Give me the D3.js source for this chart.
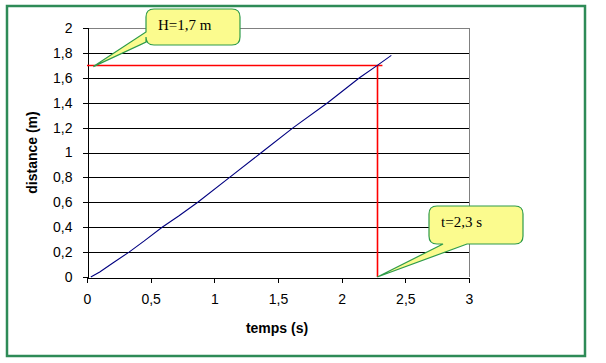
<!DOCTYPE html>
<html><head><meta charset="utf-8">
<script src="https://cdn.jsdelivr.net/npm/d3@7"></script>
<style>body{margin:0;background:#fff}svg{display:block}</style>
</head><body>
<script>
// Data
const timeValues = [0.03, 0.1, 0.2, 0.33, 0.45, 0.59, 0.72, 0.87, 1.12, 1.37, 1.62, 1.89, 2.14, 2.28, 2.39];
const distValues = [0, 0.04, 0.11, 0.2, 0.29, 0.4, 0.49, 0.6, 0.8, 1.0, 1.2, 1.4, 1.6, 1.7, 1.78];
const xTicks = [0, 0.5, 1, 1.5, 2, 2.5, 3];
const yTicks = [0, 0.2, 0.4, 0.6, 0.8, 1, 1.2, 1.4, 1.6, 1.8, 2];
const heightLine = {t0: 0, t1: 2.32, d: 1.7};
const timeLine = {t: 2.28, d0: 0, d1: 1.7};
const callouts = [
  {label: "H=1,7 m", tipT: 0.05, tipD: 1.69},
  {label: "t=2,3 s", tipT: 2.28, tipD: 0}
];

const W = 606, H = 363;
const svg = d3.select("body").append("svg").attr("width", W).attr("height", H);

svg.append("rect").attr("x", 7).attr("y", 6).attr("width", 578).attr("height", 350)
  .attr("fill", "#fff").attr("stroke", "#2e8b57").attr("stroke-width", 2.5);

const L = 87, R = 469, T = 28, B = 277;
const x = d3.scaleLinear().domain([0, 3]).range([L, R]);
const y = d3.scaleLinear().domain([0, 2]).range([B, T]);
const fmt = v => String(v).replace(".", ",");
const px = v => Math.round(v) + 0.5;

// gridlines
svg.append("g").selectAll("line").data(yTicks.filter(v => v > 0 && v < 2)).join("line")
  .attr("x1", L).attr("x2", R).attr("y1", d => px(y(d))).attr("y2", d => px(y(d)))
  .attr("stroke", "#000").attr("stroke-width", 1).attr("shape-rendering", "crispEdges");
// plot border top/right
svg.append("path").attr("d", `M${L},${T+0.5}H${R+0.5}V${B}`).attr("fill", "none").attr("stroke", "#808080")
  .attr("shape-rendering", "crispEdges");

// axes
const fontA = "Arial, 'Liberation Sans', sans-serif";
const yAxis = svg.append("g").attr("transform", `translate(${L+0.5},0)`)
  .call(d3.axisLeft(y).tickValues(yTicks).tickFormat(fmt).tickSize(5).tickPadding(8));
const xAxis = svg.append("g").attr("transform", `translate(0,${B+0.5})`)
  .call(d3.axisBottom(x).tickValues(xTicks).tickFormat(fmt).tickSize(5).tickPadding(12));
[yAxis, xAxis].forEach(g => {
  g.select(".domain").attr("stroke", "#000").attr("shape-rendering", "crispEdges");
  g.selectAll(".tick line").attr("stroke", "#000").attr("shape-rendering", "crispEdges");
  g.selectAll("text").attr("font-family", fontA).attr("font-size", 14).attr("fill", "#000");
});
yAxis.selectAll(".tick text").attr("dx", "-2");

// axis titles
svg.append("text").attr("x", 277).attr("y", 333).attr("text-anchor", "middle")
  .attr("font-family", fontA).attr("font-size", 14).attr("font-weight", "bold").text("temps (s)");
svg.append("text").attr("transform", `translate(37,${(T+B)/2}) rotate(-90)`).attr("text-anchor", "middle")
  .attr("font-family", fontA).attr("font-size", 14).attr("font-weight", "bold").text("distance (m)");

// red reference lines
svg.append("line").attr("x1", x(heightLine.t0)).attr("x2", x(heightLine.t1))
  .attr("y1", px(y(heightLine.d))).attr("y2", px(y(heightLine.d)))
  .attr("stroke", "#ff0000").attr("stroke-width", 1.6);
svg.append("line").attr("x1", px(x(timeLine.t))).attr("x2", px(x(timeLine.t)))
  .attr("y1", y(timeLine.d0)).attr("y2", y(timeLine.d1))
  .attr("stroke", "#ff0000").attr("stroke-width", 1.6);

// curve
const pts = timeValues.map((t, i) => [t, distValues[i]]);
svg.append("path").datum(pts)
  .attr("d", d3.line().x(d => x(d[0])).y(d => y(d[1])))
  .attr("fill", "none").attr("stroke", "#000080").attr("stroke-width", 1.1);

// callouts
const boxes = [
  {x0: 146, y0: 9, x1: 240, y1: 45, side: "left", b1: 32, b2: 42, tx: 158, ty: 30},
  {x0: 429, y0: 206, x1: 523, y1: 244, side: "bottom", b1: 443, b2: 467, tx: 441, ty: 227}
];
function calloutPath(b, tx, ty) {
  const r = 8;
  const p = d3.path();
  p.moveTo(b.x0 + r, b.y0);
  p.lineTo(b.x1 - r, b.y0); p.quadraticCurveTo(b.x1, b.y0, b.x1, b.y0 + r);
  p.lineTo(b.x1, b.y1 - r); p.quadraticCurveTo(b.x1, b.y1, b.x1 - r, b.y1);
  if (b.side === "bottom") { p.lineTo(b.b2, b.y1); p.lineTo(tx, ty); p.lineTo(b.b1, b.y1); }
  p.lineTo(b.x0 + r, b.y1); p.quadraticCurveTo(b.x0, b.y1, b.x0, b.y1 - r);
  if (b.side === "left") { p.lineTo(b.x0, b.b2); p.lineTo(tx, ty); p.lineTo(b.x0, b.b1); }
  p.lineTo(b.x0, b.y0 + r); p.quadraticCurveTo(b.x0, b.y0, b.x0 + r, b.y0);
  p.closePath();
  return p.toString();
}
callouts.forEach((c, i) => {
  const b = boxes[i];
  svg.append("path").attr("d", calloutPath(b, x(c.tipT), y(c.tipD)))
    .attr("fill", "#fbfb8e").attr("stroke", "#2e9b4a").attr("stroke-width", 1.2);
  svg.append("text").attr("x", b.tx).attr("y", b.ty)
    .attr("font-family", "'Liberation Serif', 'Times New Roman', serif").attr("font-size", 15)
    .attr("fill", "#000").text(c.label);
});
</script>
</body></html>
